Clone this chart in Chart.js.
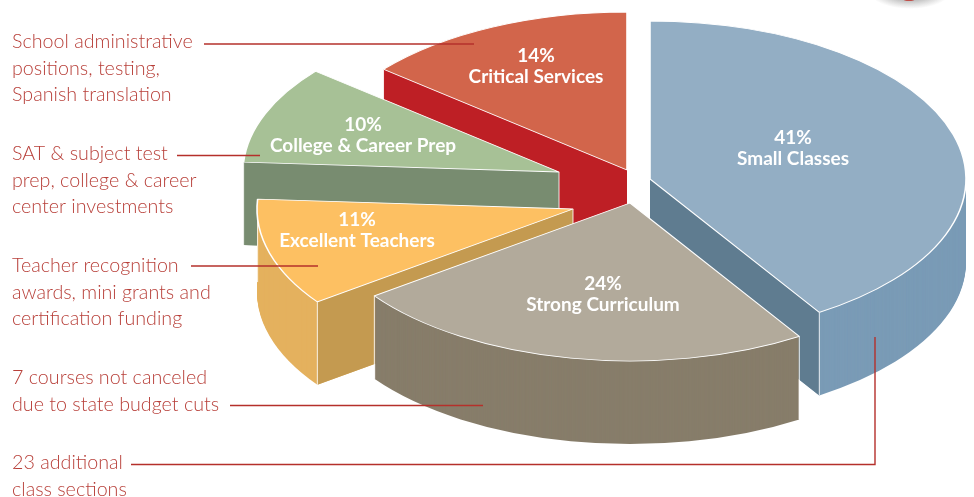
<!DOCTYPE html>
<html>
<head>
<meta charset="utf-8">
<style>
  html, body { margin: 0; padding: 0; background: #fff; }
  canvas { display: block; }
</style>
<script src="https://cdn.jsdelivr.net/npm/chart.js@4"></script>
</head>
<body>
<canvas id="budgetPie" width="974" height="497"></canvas>
<script>
const categories = ['Small Classes', 'Strong Curriculum', 'Excellent Teachers', 'College & Career Prep', 'Critical Services'];
const shares = [41, 24, 11, 10, 14];
const notes = [
    ['School administrative', 'positions, testing,', 'Spanish translation'],
    ['SAT & subject test', 'prep, college & career', 'center investments'],
    ['Teacher recognition', 'awards, mini grants and', 'certification funding'],
    ['7 courses not canceled', 'due to state budget cuts'],
    ['23 additional', 'class sections']
];

// look of each slice
const topColors = ['#93aec4', '#b2aa9b', '#fdc062', '#a7c196', '#d2654b'];
const wallColors = ['#7a9bb6', '#877d6a', '#e4b15e', '#788c70', '#be1f25'];
const cutColors = ['#5f7c90', '#877d6a', '#c49a50', '#788c70', '#be1f25'];

// slices are pulled apart by hand in the original, so each has its own tip
const tips = [[650, 179], [630, 203], [573, 209], [559, 172], [627, 170]];
const tipEdges = [2, 3];
const labelSpots = [[793, 144], [603, 290], [357, 226], [363, 131], [536, 62]];
const noteSpots = [[12, 48], [12, 160], [12, 272], [12, 384], [12, 469]];
const leaders = [
    [[204, 44], [474, 44]],
    [[177, 155.5], [260, 155.5]],
    [[191, 266], [318, 266]],
    [[230, 405.5], [483, 405.5]],
    [[131, 464.5], [875, 464.5], [875, 337]]
];
const drawOrder = [4, 3, 0, 2, 1];
const RADIUS = 316;
const SQUASH = 0.5;
const DEPTH = 83;

function drawArcAt(ctx, arc, i, drop) {
    ctx.save();
    ctx.translate(tips[i][0], tips[i][1] + drop);
    ctx.scale(1, SQUASH);
    ctx.translate(-arc.x, -arc.y);
    arc.draw(ctx);
    ctx.restore();
}

function rimPoint(arc, i, angle) {
    return [
        tips[i][0] + arc.outerRadius * Math.cos(angle),
        tips[i][1] + arc.outerRadius * Math.sin(angle) * SQUASH
    ];
}

function fillCutFace(ctx, arc, i, angle) {
    const p = rimPoint(arc, i, angle);
    ctx.fillStyle = cutColors[i];
    ctx.beginPath();
    ctx.moveTo(tips[i][0], tips[i][1]);
    ctx.lineTo(p[0], p[1]);
    ctx.lineTo(p[0], p[1] + DEPTH);
    ctx.lineTo(tips[i][0], tips[i][1] + DEPTH);
    ctx.closePath();
    ctx.fill();
}

function drawWalls(ctx, arc, i) {
    const own = arc.options;
    // the wedge stacked downwards makes the curved wall
    arc.options = { backgroundColor: wallColors[i], borderWidth: 0, offset: 0, spacing: 0, borderRadius: 0, circular: true };
    for (let d = DEPTH; d > 0; d--) drawArcAt(ctx, arc, i, d);
    arc.options = own;
    // only the straight sides that face the viewer get the darker colour
    if (Math.cos(arc.startAngle) < 0) fillCutFace(ctx, arc, i, arc.startAngle);
    if (Math.cos(arc.endAngle) > 0) fillCutFace(ctx, arc, i, arc.endAngle);
}

function drawEdges(ctx, arc, i) {
    ctx.strokeStyle = 'rgba(255,255,255,0.85)';
    ctx.lineWidth = 1;
    const starts = [rimPoint(arc, i, arc.startAngle), rimPoint(arc, i, arc.endAngle)];
    if (tipEdges.includes(i)) starts.push(tips[i]);
    starts.forEach(p => {
        ctx.beginPath();
        ctx.moveTo(p[0], p[1]);
        ctx.lineTo(p[0], p[1] + DEPTH);
        ctx.stroke();
    });
}

const explodedPie = {
    id: 'explodedPie',
    beforeDatasetsDraw(chart) {
        const ctx = chart.ctx;
        const arcs = chart.getDatasetMeta(0).data;
        drawOrder.forEach(i => {
            drawWalls(ctx, arcs[i], i);
            drawEdges(ctx, arcs[i], i);
            drawArcAt(ctx, arcs[i], i, 0);
        });
        return false;
    },
    afterDraw(chart) {
        const ctx = chart.ctx;
        ctx.save();

        // bit of the page seal showing at the top edge
        const seal = ctx.createRadialGradient(910, -8, 6, 910, -8, 42);
        seal.addColorStop(0, 'rgba(70,70,70,0.75)');
        seal.addColorStop(1, 'rgba(120,120,120,0)');
        ctx.save();
        ctx.translate(0, -6.4);
        ctx.scale(1, 0.45);
        ctx.fillStyle = seal;
        ctx.beginPath();
        ctx.arc(910, -8, 42, 0, Math.PI * 2);
        ctx.fill();
        ctx.restore();
        ctx.fillStyle = '#c0504a';
        ctx.beginPath();
        ctx.ellipse(909, -1, 6, 2, 0, 0, Math.PI * 2);
        ctx.fill();

        ctx.strokeStyle = '#b5302b';
        ctx.lineWidth = 1.4;
        leaders.forEach(pts => {
            ctx.beginPath();
            pts.forEach((p, k) => k ? ctx.lineTo(p[0], p[1]) : ctx.moveTo(p[0], p[1]));
            ctx.stroke();
        });

        ctx.fillStyle = '#fff';
        ctx.textAlign = 'center';
        ctx.font = 'bold 19px Lato';
        categories.forEach((name, i) => {
            ctx.fillText(shares[i] + '%', labelSpots[i][0], labelSpots[i][1]);
            ctx.fillText(name, labelSpots[i][0], labelSpots[i][1] + 21);
        });

        ctx.fillStyle = '#b8403a';
        ctx.textAlign = 'left';
        ctx.font = '300 19.7px Lato';
        notes.forEach((lines, i) => {
            lines.forEach((line, k) => ctx.fillText(line, noteSpots[i][0], noteSpots[i][1] + k * 26.5));
        });
        ctx.restore();
    }
};

new Chart(document.getElementById('budgetPie'), {
    type: 'pie',
    data: {
        labels: categories,
        datasets: [{
            data: shares,
            backgroundColor: topColors,
            borderColor: '#fff',
            borderWidth: 1.6,
            radius: RADIUS
        }]
    },
    options: {
        responsive: false,
        animation: false,
        events: [],
        plugins: { legend: { display: false }, tooltip: { enabled: false } }
    },
    plugins: [explodedPie]
});
</script>
</body>
</html>
